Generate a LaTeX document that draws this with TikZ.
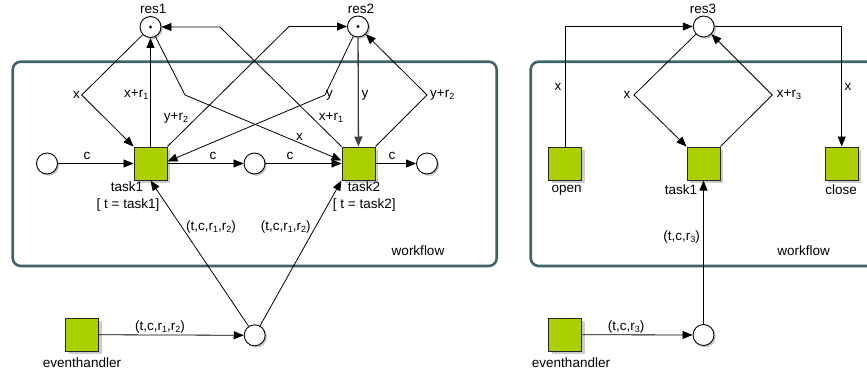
\documentclass[tikz,border=0pt]{standalone}
\usepackage{fontspec}
\setmainfont{Liberation Sans}
\usetikzlibrary{arrows.meta,shadows}
\definecolor{trfill}{RGB}{170,208,0}
\definecolor{boxline}{RGB}{62,100,102}
% lowered small index, as in r1, r2, r3
\newcommand\lsub[1]{\raisebox{-0.3ex}{\fontsize{9}{9}\selectfont #1}}
\begin{document}
\begin{tikzpicture}[x=1pt,y=-1pt,
  every node/.style={font=\fontsize{13.5}{16}\selectfont, inner sep=0pt},
  place/.style={circle, draw, fill=white, minimum size=21pt, line width=0.9pt,
    drop shadow={shadow xshift=1.8pt, shadow yshift=-1.8pt, fill=black!22, opacity=1}},
  trans/.style={rectangle, draw=black!85, fill=trfill, minimum size=33pt, line width=1pt,
    drop shadow={shadow xshift=3pt, shadow yshift=-3pt, fill=black!20, opacity=1}},
  arc/.style={draw, line width=0.8pt, -{Triangle[length=10pt,width=8pt]}},
  group/.style={draw=boxline, line width=2.6pt, rounded corners=8pt},
  token/.style={fill=black}]
\clip (0,0) rectangle (867,375);

% ---- process boundaries ----
\draw[group] (12.7,61.7) rectangle (496.7,266);
\draw[group] (530.7,61.7) rectangle (900,266);
\node at (418,251) {workflow};
\node at (803.7,251) {workflow};

% ---- left net: places ----
\node[place] (pin1) at (47,163.5) {};
\node[place] (pm)   at (254.5,163.5) {};
\node[place] (pout) at (427,163.5) {};
\node[place] (res1) at (150.5,27) {};
\node[place] (res2) at (358,26.5) {};
\node[place] (bp)   at (254.7,335.3) {};
\fill[token] (res1) circle (1.7pt);
\fill[token] (res2) circle (1.7pt);
\node at (153.3,9) {res1};
\node at (361,9) {res2};

% ---- left net: transitions ----
\node[trans] (t1) at (150.5,163.5) {};
\node[trans] (t2) at (358.5,163.5) {};
\node[trans] (eh) at (82,334.7) {};
\node at (127,187) {task1};
\node at (128,205) {[ t = task1]};
\node at (364,187) {task2};
\node at (364.3,205) {[ t = task2]};
\node at (82,363) {eventhandler};

% ---- left net: bend points ----
\coordinate (k1) at (81.7,95);
\coordinate (k2) at (289,26.5);
\coordinate (k3) at (220,27);
\coordinate (k4) at (185,95);
\coordinate (k5) at (325,95);
\coordinate (k6) at (427,95);

% ---- left net: arcs ----
\draw[arc] (pin1) -- (t1);
\draw[arc] (t1) -- (pm);
\draw[arc] (pm) -- (t2);
\draw[arc] (t2) -- (pout);
\draw[arc] (t1) -- (res1);
\draw[arc] (res1) -- (k1) -- (t1.north west);
\draw[arc] (t1.north east) -- (k2) -- (res2);
\draw[arc] (t2.north west) -- (k3) -- (res1);
\draw[arc] (res1) -- (k4) -- ([yshift=3pt]t2.west);
\draw[arc] (res2) -- (k5) -- ([yshift=2pt]t1.east);
\draw[arc, draw=black!75, line width=1.3pt] (res2) -- (t2);
\draw[arc] (t2.north east) -- (k6) -- (res2);
\draw[arc] (eh) -- (bp);
\draw[arc] (bp) -- (t1.south);
\draw[arc] (bp) -- (t2.south west);

% ---- left net: inscriptions ----
\node at (87,156) {c};
\node at (213,156) {c};
\node at (290,156) {c};
\node at (392,156) {c};
\node[anchor=east] at (80,95) {x};
\node[anchor=east] at (148.5,95) {x+r\lsub1};
\node at (176,118) {y+r\lsub2};
\node[anchor=west] at (326,95) {y};
\node at (331,118) {x+r\lsub1};
\node at (299.5,137) {x};
\node at (365,95) {y};
\node[anchor=west] at (430,95) {y+r\lsub2};
\node at (211,227) {(t,c,r\lsub1,r\lsub2)};
\node at (285.7,227) {(t,c,r\lsub1,r\lsub2)};
\node at (160,326.7) {(t,c,r\lsub1,r\lsub2)};

% ---- right net: nodes ----
\node[place] (res3) at (703.7,26.5) {};
\node[place] (bp2)  at (703.5,335) {};
\node[trans] (open)  at (565.3,163.5) {};
\node[trans] (t3)    at (703.5,163.5) {};
\node[trans] (close) at (841.7,163.5) {};
\node[trans] (eh2)   at (565.3,334.7) {};
\node at (703,9) {res3};
\node at (566.7,190) {open};
\node at (681,190) {task1};
\node at (841,190) {close};
\node at (571,363) {eventhandler};

% ---- right net: bend points ----
\coordinate (k7) at (634,95);
\coordinate (k8) at (772.3,95);

% ---- right net: arcs ----
\draw[arc] (open) -- (open |- res3) -- (res3);
\draw[arc] (res3) -- (close |- res3) -- (close);
\draw[arc] (res3) -- (k7) -- (t3.north west);
\draw[arc] (t3.north east) -- (k8) -- (res3);
\draw[arc] (eh2) -- (bp2);
\draw[arc] (bp2) -- (t3);

% ---- right net: inscriptions ----
\node at (558,87) {x};
\node at (848,87) {x};
\node[anchor=east] at (630.5,95) {x};
\node[anchor=west] at (776.7,95) {x+r\lsub3};
\node at (681.7,237.3) {(t,c,r\lsub3)};
\node at (626,326.7) {(t,c,r\lsub3)};
\end{tikzpicture}
\end{document}
